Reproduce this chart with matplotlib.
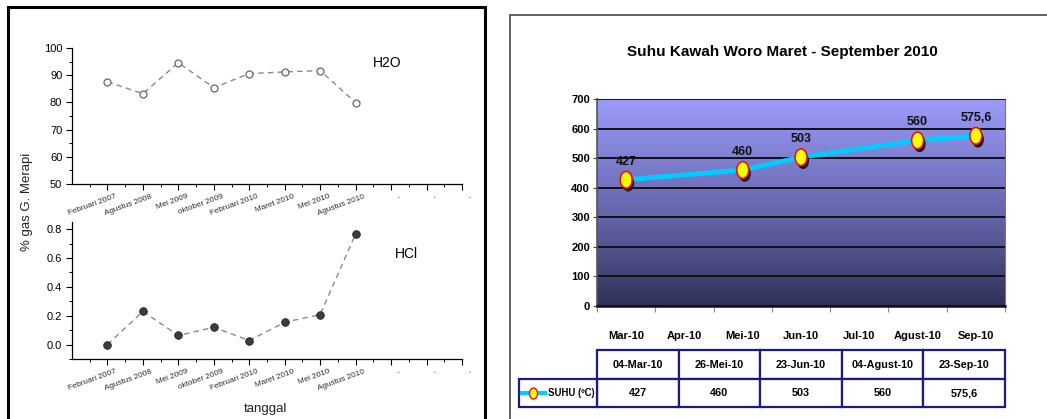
import matplotlib
matplotlib.use('Agg')
from matplotlib import pyplot as plt
from matplotlib.colors import LinearSegmentedColormap
from matplotlib.lines import Line2D
from matplotlib.patches import Rectangle
from matplotlib.path import Path
from matplotlib.transforms import Affine2D, ScaledTranslation
import matplotlib.patheffects as pe
import numpy as np

W, H = 1047, 419

# left panel: gas composition of Merapi
tanggal = ['Februari 2007', 'Agustus 2008', 'Mei 2009', 'oktober 2009',
           'Februari 2010', 'Maret 2010', 'Mei 2010', 'Agustus 2010']
h2o = [87.6, 83.2, 94.6, 85.4, 90.6, 91.2, 91.7, 79.9]
hcl = [0.0, 0.23, 0.063, 0.12, 0.028, 0.155, 0.208, 0.768]

# right panel: Woro crater temperature
bulan = ['Mar-10', 'Apr-10', 'Mei-10', 'Jun-10', 'Jul-10', 'Agust-10', 'Sep-10']
bulan_ukur = ['Mar-10', 'Mei-10', 'Jun-10', 'Agust-10', 'Sep-10']
tgl_ukur = ['04-Mar-10', '26-Mei-10', '23-Jun-10', '04-Agust-10', '23-Sep-10']
suhu = [427, 460, 503, 560, 575.6]
suhu_txt = ['427', '460', '503', '560', '575,6']
seri = 'SUHU (\u00baC)'

# no narrow font installed, so the bold texts are just set a bit smaller
NARROW = ['Liberation Sans', 'DejaVu Sans']
plt.rcParams['font.family'] = ['Liberation Sans', 'DejaVu Sans']


def box(x0, y0, x1, y1):
    return [x0 / W, 1 - y1 / H, (x1 - x0) / W, (y1 - y0) / H]


def fx(px):
    return px / W


def fy(py):
    return 1 - py / H


fig = plt.figure(figsize=(W / 100, H / 100), dpi=100)

# panel frames
fig.add_artist(Rectangle((fx(8), -0.1), fx(485 - 8), 1.1 - 7.5 / H,
                         transform=fig.transFigure, fill=False,
                         edgecolor='black', lw=2.2))
fig.add_artist(Rectangle((fx(510), -0.1), 1.0, 1.1 - 15 / H,
                         transform=fig.transFigure, fill=False,
                         edgecolor='#555555', lw=1.3))


def style_left(ax, ylim, major, minor, fmt):
    n_extra = 3
    ax.set_xlim(0, len(tanggal) + n_extra)
    ax.set_ylim(*ylim)
    for s in ['top', 'right']:
        ax.spines[s].set_visible(False)
    for s in ['left', 'bottom']:
        ax.spines[s].set_linewidth(0.9)
    ax.set_xticks(np.arange(1, len(tanggal) + n_extra + 1))
    ax.set_xticks(np.arange(0.5, len(tanggal) + n_extra, 1.0), minor=True)
    ax.set_yticks(major)
    ax.set_yticks(minor, minor=True)
    ax.set_yticklabels([fmt.format(v) for v in major], fontsize=8)
    ax.tick_params(which='major', direction='out', length=4, width=0.8, pad=2.5)
    ax.tick_params(which='minor', direction='out', length=2.2, width=0.7)
    ax.tick_params(axis='y', pad=3)
    ax.set_xticklabels(tanggal + ['-'] * n_extra, rotation=20, ha='right',
                       va='top', rotation_mode='anchor', fontsize=5.9,
                       color='#2a2a3a')
    off = ScaledTranslation(8 / 100, 0, fig.dpi_scale_trans)
    for lb in ax.get_xticklabels():
        lb.set_transform(lb.get_transform() + off)


x = np.arange(1, len(tanggal) + 1)

ax1 = fig.add_axes(box(72, 48, 462, 184))
ax1.plot(x, h2o, ls=(0, (4, 3)), color='#8a8a8a', lw=1.0, marker='o',
         ms=5, mfc='white', mec='#666666', mew=0.9)
style_left(ax1, (50, 100), np.arange(50, 101, 10), np.arange(55, 100, 10),
           '{:.0f}')

ax2 = fig.add_axes(box(72, 222, 462, 359))
ax2.plot(x, hcl, ls=(0, (4, 3)), color='#8a8a8a', lw=1.0, marker='o',
         ms=5.5, mfc='#3c3c3c', mec='#222222', mew=0.6)
style_left(ax2, (-0.1, 0.85), np.arange(0, 0.81, 0.2),
           np.arange(-0.1, 0.85, 0.2), '{:.1f}')

fig.text(fx(387), fy(63), 'H2O', fontsize=10, ha='center', va='center')
fig.text(fx(406), fy(254), 'HCl', fontsize=10, ha='center', va='center')
fig.text(fx(27), fy(202), '% gas G. Merapi', rotation=90, fontsize=9.5,
         ha='center', va='center', color='#222222')
fig.text(fx(266), fy(409), 'tanggal', fontsize=9.5, ha='center',
         va='center', color='#222222')

# right panel
ax3 = fig.add_axes(box(597, 99, 1005, 306))
ax3.set_xlim(-0.5, len(bulan) - 0.5)
ax3.set_ylim(0, 700)
grad = LinearSegmentedColormap.from_list(
    'bg', ['#30305a', '#5a5a9a', '#7b7bcb', '#9c9cfd'])
ax3.imshow(np.linspace(0, 1, 256).reshape(-1, 1), cmap=grad, aspect='auto',
           origin='lower', extent=(-0.5, len(bulan) - 0.5, 0, 700), zorder=0)
ax3.set_yticks(np.arange(0, 701, 100))
ax3.yaxis.grid(True, color='#111111', lw=1.4)
for gl in ax3.get_ygridlines():
    gl.set_zorder(1)
ax3.set_xticks(np.arange(-0.5, len(bulan)))
ax3.set_xticklabels([])
ax3.set_xticks(np.arange(len(bulan)), minor=True)
ax3.set_xticklabels(bulan, minor=True, fontsize=8, fontweight='bold',
                    family=NARROW)
ax3.tick_params(axis='x', which='minor', length=0, pad=18)
ax3.tick_params(axis='x', which='major', length=4, color='#888888',
                direction='out')
ax3.tick_params(axis='y', length=3, direction='out', pad=2, color='#444444')
for lb in ax3.get_yticklabels():
    lb.set_fontsize(8)
    lb.set_fontweight('bold')
    lb.set_family(NARROW)
ax3.spines['bottom'].set_linewidth(1.8)
ax3.spines['bottom'].set_color('#111111')
ax3.spines['left'].set_color('#555555')
ax3.spines['left'].set_linewidth(1.2)
ax3.spines['right'].set_color('#777777')
ax3.spines['top'].set_color('#222222')
for s in ax3.spines.values():
    s.set_zorder(2)

xs = [bulan.index(b) for b in bulan_ukur]
ax3.plot(xs, suhu, color='#00ccff', lw=3.5, zorder=3, solid_capstyle='round')
oval = Path(Affine2D().scale(0.72, 1.0).transform(Path.unit_circle().vertices),
            Path.unit_circle().codes)
ax3.plot(xs, suhu, ls='none', marker=oval, ms=12, mfc='#ffff00',
         mec='#ee1111', mew=1.2, zorder=4,
         path_effects=[pe.SimplePatchShadow(offset=(1.5, -2.5),
                                            shadow_rgbFace='#111111',
                                            alpha=0.9), pe.Normal()])
for xi, yi, s in zip(xs, suhu, suhu_txt):
    ax3.annotate(s, (xi, yi), xytext=(0, 13), textcoords='offset points',
                 ha='center', va='center', fontsize=9, fontweight='bold',
                 family=NARROW, color='#111111', zorder=5)

fig.text(fx(782), fy(52), 'Suhu Kawah Woro Maret - September 2010',
         fontsize=11, fontweight='bold', family=NARROW, ha='center',
         va='center')

# data table under the chart
col_x = np.linspace(597, 1005, len(tgl_ukur) + 1)
row_y = [350, 379, 407]
edge = '#1a1a80'


def cell(x0, y0, x1, y1, txt, ha='center', size=7.8):
    fig.add_artist(Rectangle((fx(x0), fy(y1)), fx(x1 - x0), (y1 - y0) / H,
                             transform=fig.transFigure, facecolor='white',
                             edgecolor=edge, lw=1.6, zorder=1))
    tx = (x0 + x1) / 2 if ha == 'center' else x1 - 2
    fig.text(fx(tx), fy((y0 + y1) / 2), txt, ha=ha, va='center',
             fontsize=size, fontweight='bold', family=NARROW, zorder=3)


for i, d in enumerate(tgl_ukur):
    cell(col_x[i], row_y[0], col_x[i + 1], row_y[1], d)
    cell(col_x[i], row_y[1], col_x[i + 1], row_y[2], suhu_txt[i])
cell(519, row_y[1], col_x[0], row_y[2], seri, ha='right', size=6.9)

fig.add_artist(Line2D([fx(522), fx(545)], [fy(393)] * 2, color='#00ccff',
                      lw=3, transform=fig.transFigure, zorder=4))
fig.add_artist(Line2D([fx(533)], [fy(393)], marker=oval, ms=8,
                      mfc='#ffff00', mec='#ee1111', mew=1,
                      transform=fig.transFigure, zorder=5))

fig.savefig('out.png', dpi=100)
